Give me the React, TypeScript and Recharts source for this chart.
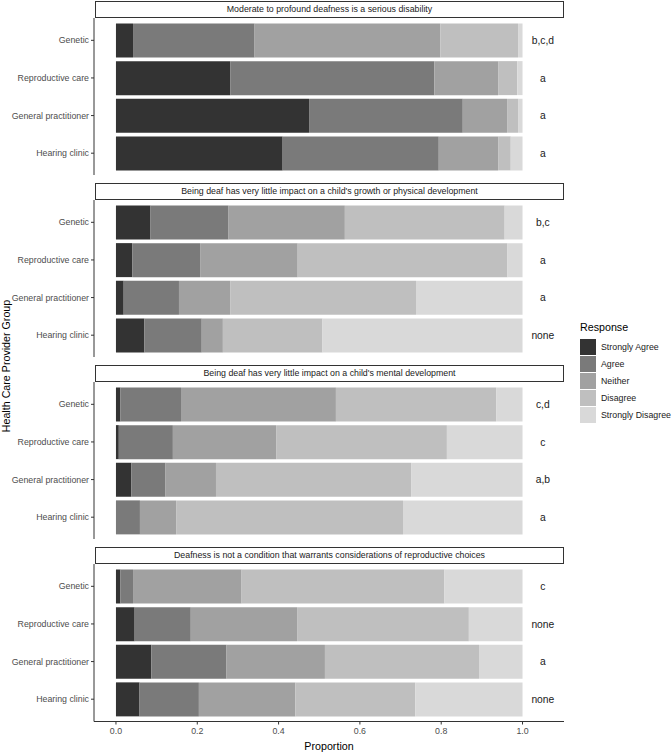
import React from 'react';
import { BarChart, Bar, XAxis, YAxis, LabelList } from 'recharts';

// ---------- data ----------
const groups = ['Genetic', 'Reproductive care', 'General practitioner', 'Hearing clinic'];
const responses = ['Strongly Agree', 'Agree', 'Neither', 'Disagree', 'Strongly Disagree'];
const responseColors = ['#333333', '#7A7A7A', '#A1A1A1', '#BFBFBF', '#D9D9D9'];
const statements = [
  'Moderate to profound deafness is a serious disability',
  "Being deaf has very little impact on a child's growth or physical development",
  "Being deaf has very little impact on a child's mental development",
  'Deafness is not a condition that warrants considerations of reproductive choices',
];
const xTicks = [0, 0.2, 0.4, 0.6, 0.8, 1.0];

// rows = groups, columns = responses (SA, A, N, D, SD)
const seriousDisability = [
  [0.042, 0.299, 0.457, 0.191, 0.011],
  [0.281, 0.502, 0.157, 0.047, 0.013],
  [0.475, 0.378, 0.109, 0.027, 0.011],
  [0.410, 0.384, 0.146, 0.031, 0.029],
];
const physicalDevelopment = [
  [0.085, 0.192, 0.286, 0.393, 0.044],
  [0.040, 0.167, 0.240, 0.516, 0.037],
  [0.019, 0.136, 0.126, 0.457, 0.262],
  [0.070, 0.141, 0.052, 0.245, 0.492],
];
const mentalDevelopment = [
  [0.011, 0.149, 0.381, 0.394, 0.065],
  [0.007, 0.133, 0.254, 0.420, 0.186],
  [0.038, 0.084, 0.124, 0.480, 0.274],
  [0.000, 0.059, 0.089, 0.558, 0.294],
];
const reproductiveChoices = [
  [0.011, 0.031, 0.267, 0.499, 0.192],
  [0.046, 0.138, 0.2615, 0.4225, 0.132],
  [0.087, 0.185, 0.242, 0.379, 0.107],
  [0.058, 0.146, 0.237, 0.295, 0.264],
];

const sigSeriousDisability = ['b,c,d', 'a', 'a', 'a'];
const sigPhysicalDevelopment = ['b,c', 'a', 'a', 'none'];
const sigMentalDevelopment = ['c,d', 'c', 'a,b', 'a'];
const sigReproductiveChoices = ['c', 'none', 'a', 'none'];

const panelValues = [seriousDisability, physicalDevelopment, mentalDevelopment, reproductiveChoices];
const panelSigs = [sigSeriousDisability, sigPhysicalDevelopment, sigMentalDevelopment, sigReproductiveChoices];

// ---------- layout ----------
const W = 672;
const PLOT_LEFT = 94;
const PLOT_RIGHT = 564;
const DOMAIN: [number, number] = [-0.054, 1.102];
const LABEL_SPAN = 0.1; // invisible stacked segment from 1.0 to 1.1 carrying the letters
const FIRST_TOP = 1;
const PANEL_STEP = 182;
const STRIP_H = 16.5;
const BODY_H = 157.5;
const AXIS_H = 31;
const FONT = '"Liberation Sans", Arial, sans-serif';

function buildRows(values: number[][], sigs: string[]) {
  return groups.map((g, i) => {
    const row: any = { group: g, sig: sigs[i], span: LABEL_SPAN };
    responses.forEach((_, j) => {
      row[`r${j}`] = values[i][j];
    });
    return row;
  });
}

const CategoryTick = (props: any) => {
  const { x, y, payload } = props;
  return (
    <text x={x} y={y} dy="0.34em" textAnchor="end" fontSize={8.8} fill="#4D4D4D" fontFamily={FONT}>
      {payload.value}
    </text>
  );
};

function Panel({ idx }: { idx: number }) {
  const top = FIRST_TOP + idx * PANEL_STEP;
  const last = idx === panelValues.length - 1;
  const data = buildRows(panelValues[idx], panelSigs[idx]);
  return (
    <>
      <div
        style={{
          position: 'absolute',
          left: PLOT_LEFT + 1,
          top,
          width: PLOT_RIGHT - PLOT_LEFT - 1,
          height: STRIP_H,
          border: '1px solid #333',
          borderBottomWidth: 1.5,
          boxSizing: 'border-box',
          display: 'flex',
          alignItems: 'center',
          justifyContent: 'center',
          fontSize: 8.8,
          color: '#1A1A1A',
          whiteSpace: 'nowrap',
        }}
      >
        {statements[idx]}
      </div>
      <div style={{ position: 'absolute', left: 0, top: top + STRIP_H }}>
        <BarChart
          width={W}
          height={BODY_H + (last ? AXIS_H : 0)}
          data={data}
          layout="vertical"
          margin={{ top: 0, right: W - PLOT_RIGHT, bottom: 0, left: 0 }}
          barSize={34}
        >
          <XAxis
            type="number"
            domain={DOMAIN}
            allowDataOverflow
            ticks={xTicks}
            hide={!last}
            height={AXIS_H}
            tickSize={3}
            tickMargin={3}
            tickFormatter={(v: number) => v.toFixed(1)}
            tick={{ fontSize: 8.8, fill: '#4D4D4D', fontFamily: FONT }}
            axisLine={{ stroke: '#333' }}
            tickLine={{ stroke: '#333' }}
            label={{
              value: 'Proportion',
              position: 'insideBottom',
              offset: 3,
              fontSize: 10.7,
              fill: '#000',
              fontFamily: FONT,
            }}
          />
          <YAxis
            type="category"
            dataKey="group"
            width={PLOT_LEFT}
            padding={{ top: 3.5, bottom: 3.5 }}
            tickSize={3}
            tickMargin={2}
            tick={<CategoryTick />}
            axisLine={{ stroke: '#333' }}
            tickLine={{ stroke: '#333' }}
            interval={0}
          />
          {responses.map((r, i) => (
            <Bar key={r} dataKey={`r${i}`} stackId="s" fill={responseColors[i]} isAnimationActive={false} />
          ))}
          <Bar dataKey="span" stackId="s" fill="none" isAnimationActive={false} legendType="none">
            <LabelList dataKey="sig" position="center" fill="#1A1A1A" fontSize={10.3} fontFamily={FONT} />
          </Bar>
        </BarChart>
      </div>
    </>
  );
}

export default function App() {
  return (
    <div
      style={{
        position: 'absolute',
        left: 0,
        top: 0,
        width: W,
        height: 752,
        background: '#fff',
        fontFamily: FONT,
        overflow: 'hidden',
      }}
    >
      {panelValues.map((_, i) => (
        <Panel key={i} idx={i} />
      ))}
      <div
        style={{
          position: 'absolute',
          left: 6,
          top: 366,
          transform: 'translate(-50%, -50%) rotate(-90deg)',
          whiteSpace: 'nowrap',
          fontSize: 10.7,
          color: '#000',
        }}
      >
        Health Care Provider Group
      </div>
      <div style={{ position: 'absolute', left: 580, top: 321 }}>
        <div style={{ fontSize: 10.7, lineHeight: '13px', height: 17, color: '#000' }}>Response</div>
        {responses.map((r, i) => (
          <div key={r} style={{ display: 'flex', alignItems: 'center', height: 17 }}>
            <div style={{ width: 16, height: 16, background: responseColors[i] }} />
            <div style={{ marginLeft: 5, fontSize: 8.8, color: '#1A1A1A', whiteSpace: 'nowrap' }}>{r}</div>
          </div>
        ))}
      </div>
    </div>
  );
}
